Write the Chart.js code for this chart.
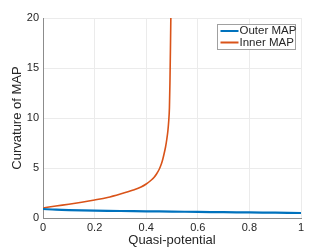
<!DOCTYPE html>
<html>
<head>
<meta charset="utf-8">
<script src="https://cdn.jsdelivr.net/npm/chart.js@4"></script>
<style>
  html, body { margin: 0; padding: 0; background: #fff; }
  #wrap { width: 332px; height: 249px; }
</style>
</head>
<body>
<div id="wrap"><canvas id="mapChart" width="332" height="249"></canvas></div>
<script>
// values
const outerX = [0, 0.05, 0.1, 0.2, 0.3, 0.4, 0.5, 0.6, 0.7, 0.8, 0.9, 1];
const outerY = [0.9, 0.83, 0.79, 0.74, 0.7, 0.67, 0.64, 0.61, 0.58, 0.56, 0.53, 0.5];

const innerX = [0, 0.05, 0.1, 0.15, 0.2, 0.25, 0.3, 0.35, 0.38, 0.4, 0.42, 0.43, 0.44, 0.45, 0.455, 0.46, 0.465, 0.47, 0.475, 0.48, 0.484, 0.487, 0.49, 0.492, 0.494, 0.496];
const innerY = [1.0, 1.2, 1.38, 1.58, 1.8, 2.05, 2.4, 2.8, 3.1, 3.4, 3.8, 4.05, 4.4, 4.85, 5.15, 5.5, 5.95, 6.5, 7.1, 7.9, 8.7, 9.6, 11, 13.5, 17, 21];

const seriesLabels = ['Outer MAP', 'Inner MAP'];
const xTitle = 'Quasi-potential';
const yTitle = 'Curvature of MAP';

const BLUE = '#0072BD';
const ORANGE = '#D95319';
const TEXT = '#262626';
const FONT = "'Liberation Sans', Arial, sans-serif";

function toPoints(xs, ys) {
    return xs.map((x, i) => ({ x: x, y: ys[i] }));
}

function tickText(value) {
    return String(Number(value.toFixed(1)));
}

// MATLAB-style legend drawn inside the plot area
const insideLegend = {
    id: 'insideLegend',
    afterDraw(chart) {
        const ctx = chart.ctx;
        const area = chart.chartArea;
        const boxW = 78, boxH = 25;
        const bx = area.right - 83.5, by = 24.5;
        ctx.save();
        ctx.fillStyle = '#fff';
        ctx.fillRect(bx, by, boxW, boxH);
        ctx.strokeStyle = '#a0a0a0';
        ctx.lineWidth = 1;
        ctx.strokeRect(bx, by, boxW, boxH);
        ctx.font = '11.5px ' + FONT;
        ctx.textBaseline = 'middle';
        chart.data.datasets.forEach((ds, i) => {
            const cy = by + 6.5 + i * 11.5;
            ctx.strokeStyle = ds.borderColor;
            ctx.lineWidth = 2;
            ctx.beginPath();
            ctx.moveTo(bx + 3, cy);
            ctx.lineTo(bx + 21, cy);
            ctx.stroke();
            ctx.fillStyle = TEXT;
            ctx.fillText(ds.label, bx + 22, cy);
        });
        ctx.restore();
    }
};

const ctx = document.getElementById('mapChart').getContext('2d');
const mapChart = new Chart(ctx, {
    type: 'line',
    data: {
        datasets: [{
            label: seriesLabels[0],
            data: toPoints(outerX, outerY),
            borderColor: BLUE,
            borderWidth: 2.2,
            pointRadius: 0,
            tension: 0.3,
            fill: false
        }, {
            label: seriesLabels[1],
            data: toPoints(innerX, innerY),
            borderColor: ORANGE,
            borderWidth: 1.6,
            pointRadius: 0,
            cubicInterpolationMode: 'monotone',
            fill: false
        }]
    },
    options: {
        responsive: false,
        animation: false,
        layout: { padding: { top: 18, right: 31, left: 0, bottom: 0 } },
        plugins: {
            legend: { display: false },
            tooltip: { enabled: false }
        },
        scales: {
            x: {
                type: 'linear',
                min: 0,
                max: 1,
                afterFit(scale) { scale.height = 31; },
                ticks: {
                    stepSize: 0.2,
                    color: TEXT,
                    padding: 3,
                    maxRotation: 0,
                    callback: tickText,
                    font: { family: FONT, size: 11 }
                },
                grid: { color: '#ebebeb', tickLength: 0 },
                border: { color: '#8c8c8c', width: 1 },
                title: {
                    display: true,
                    text: xTitle,
                    color: TEXT,
                    padding: { top: 1, bottom: 1 },
                    font: { family: FONT, size: 13 }
                }
            },
            y: {
                min: 0,
                max: 20,
                afterFit(scale) { scale.width = 43; },
                ticks: {
                    stepSize: 5,
                    color: TEXT,
                    padding: 4,
                    callback: tickText,
                    font: { family: FONT, size: 11 }
                },
                grid: { color: '#ebebeb', tickLength: 0 },
                border: { color: '#8c8c8c', width: 1 },
                title: {
                    display: true,
                    text: yTitle,
                    color: TEXT,
                    padding: { top: 10, bottom: 2 },
                    font: { family: FONT, size: 13 }
                }
            }
        }
    },
    plugins: [insideLegend]
});
</script>
</body>
</html>
